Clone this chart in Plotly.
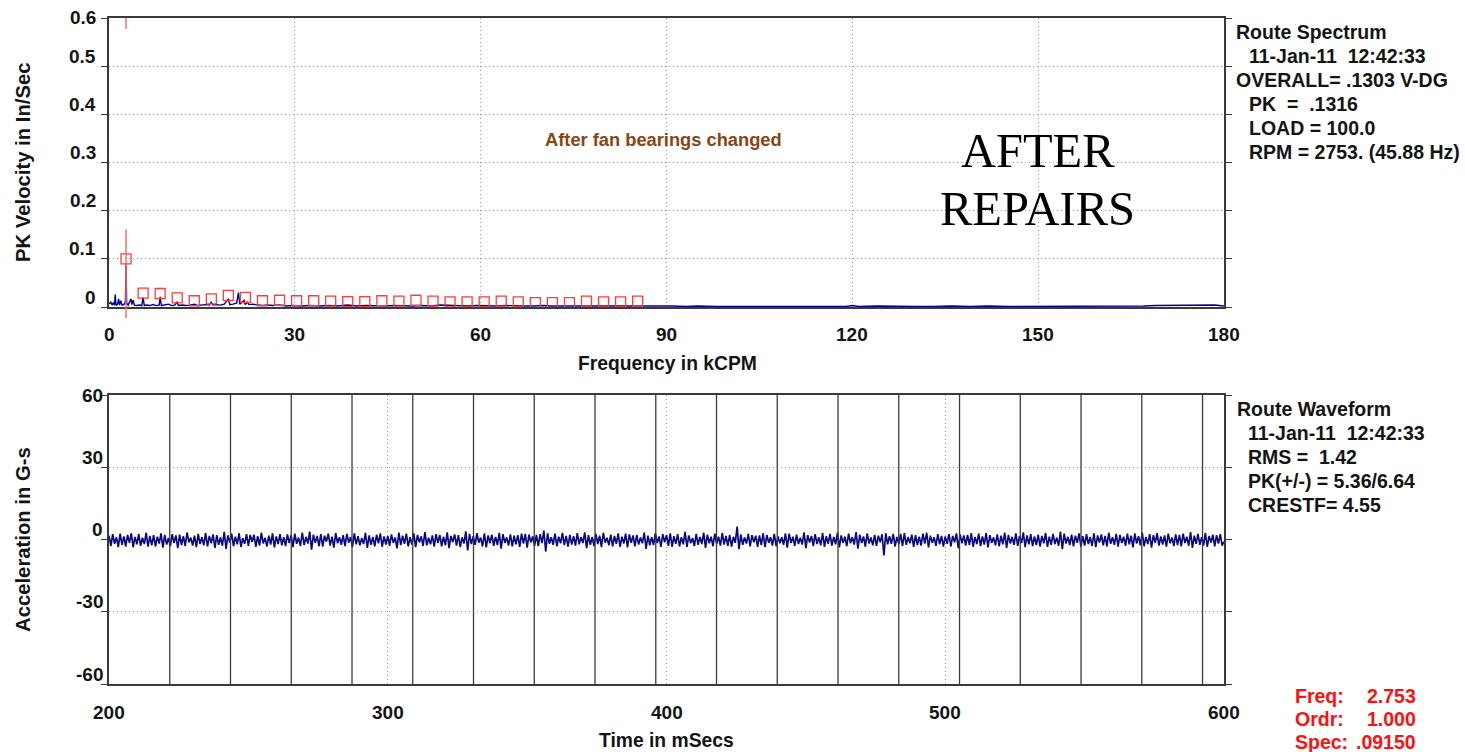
import numpy as np
import plotly.graph_objects as go

W, H = 1465, 752

# ---------------- data ----------------
run_speed_kcpm = 2.753          # 1x running speed (kCPM)
rpm = 2753.0

spec_freq = [0.0, 0.3, 0.5, 0.7, 0.9, 1.0, 1.15, 1.4, 1.55, 1.7, 1.9, 2.1, 2.4, 2.65, 2.75, 2.85,
             3.1, 3.3, 3.55, 3.7, 3.9, 4.1, 4.5, 4.9, 5.3, 5.5, 5.7, 6.1, 6.6, 7.1, 7.6, 8.1,
             8.26, 8.45, 9.0, 9.6, 10.1, 10.6, 11.0, 11.2, 11.8, 12.4, 13.0, 13.8, 14.3, 15.0,
             15.6, 16.2, 16.5, 16.8, 17.4, 18.0, 18.6, 19.27, 19.5, 20.0, 20.6, 20.9, 21.1, 21.5,
             21.8, 22.0, 22.3, 22.6, 23.2, 24.0, 24.8, 25.6, 26.4, 27.5, 28.6, 29.7, 31.0, 32.5,
             34.0, 35.5, 37.0, 38.5, 40.0, 41.5, 43.0, 44.5, 46.0, 47.5, 49.0, 50.5, 52.0, 53.5,
             55.0, 56.5, 58.0, 59.5, 61.0, 62.5, 64.0, 65.5, 67.0, 68.5, 70.0, 71.5, 73.0, 74.5,
             76.0, 77.5, 79.0, 80.5, 82.0, 83.5, 85.0, 86.5, 88.0, 89.5, 91.0, 93.0, 95.0, 98.0,
             101.0, 104.0, 107.0, 110.0, 113.0, 116.0, 119.0, 120.0, 121.0, 124.0, 127.0, 130.0,
             133.0, 136.0, 139.0, 142.0, 145.0, 148.0, 150.0, 152.0, 155.0, 158.0, 161.0, 164.0,
             167.0, 169.0, 171.0, 172.5, 174.0, 175.5, 177.0, 178.5, 180.0]
spec_amp = [0.006, 0.010, 0.004, 0.009, 0.004, 0.026, 0.003, 0.006, 0.017, 0.004, 0.013, 0.004, 0.005, 0.010, 0.0915, 0.008,
            0.004, 0.009, 0.017, 0.005, 0.014, 0.004, 0.003, 0.004, 0.003, 0.020, 0.003, 0.004, 0.003, 0.005, 0.003, 0.004,
            0.021, 0.003, 0.004, 0.006, 0.003, 0.004, 0.010, 0.003, 0.004, 0.003, 0.004, 0.006, 0.003, 0.004,
            0.005, 0.004, 0.010, 0.004, 0.005, 0.004, 0.006, 0.017, 0.005, 0.006, 0.008, 0.030, 0.006, 0.010,
            0.014, 0.005, 0.010, 0.005, 0.006, 0.004, 0.003, 0.004, 0.003, 0.004, 0.002, 0.003, 0.002, 0.003,
            0.002, 0.003, 0.002, 0.004, 0.002, 0.003, 0.002, 0.002, 0.003, 0.002, 0.002, 0.003, 0.002, 0.004,
            0.003, 0.002, 0.002, 0.003, 0.002, 0.002, 0.003, 0.002, 0.002, 0.002, 0.003, 0.002, 0.002, 0.002,
            0.002, 0.002, 0.002, 0.002, 0.002, 0.002, 0.002, 0.002, 0.003, 0.002, 0.002, 0.001, 0.002, 0.001,
            0.001, 0.002, 0.001, 0.001, 0.001, 0.001, 0.001, 0.003, 0.001, 0.002, 0.001, 0.001,
            0.001, 0.002, 0.001, 0.002, 0.001, 0.001, 0.001, 0.001, 0.002, 0.002, 0.002, 0.002,
            0.002, 0.003, 0.003, 0.004, 0.003, 0.004, 0.003, 0.004, 0.002]

harm_order = list(range(1, 32))
harm_amp = [0.100, 0.029, 0.028, 0.019, 0.013, 0.017, 0.024, 0.020, 0.013, 0.014, 0.013, 0.013, 0.012, 0.011,
            0.011, 0.013, 0.012, 0.014, 0.012, 0.0105, 0.0105, 0.0105, 0.012, 0.0105, 0.009, 0.009, 0.009,
            0.012, 0.0105, 0.0105, 0.012]

cursor_low = [-0.023, 0.161]     # cursor segment around the 1x peak (In/Sec)
cursor_high = [0.577, 0.6]       # cursor mark at the top

wave_start_ms = 200.0
wave_len_ms = 400.0
wave_g = [
    1.6, -2.7, 2.2, -1.8, 0.9, -3.1, 2.4, -2.2, 1.3, -2.9, 1.9, -1.4, 2.6, -3.3, 1.1, -2.0, 2.3, -2.6, 0.7, -1.9, 2.8, -3.0, 1.5, -2.4, 1.8,
    -2.9, 1.2, -1.7, 2.5, -3.4, 1.9, -2.1, 0.6, -2.8, 2.2, -1.5, 1.7, -3.6, 2.0, -2.3, 1.4, -2.7, 2.9, -1.2, 0.8, -2.5, 1.6, -3.2, 2.3, -1.9,
    1.0, -2.4, 2.7, -2.9, 1.5, -1.6, 2.1, -3.5, 1.8, -2.2, 0.9, -2.6, 3.2, -3.9, 1.7, -1.3, 2.4, -2.8, 1.2, -2.0, 2.6, -3.1, 0.5, -1.8, 2.2,
    -2.6, 1.9, -1.1, 2.0, -3.0, 1.4, -2.5, 2.8, -1.7, 0.7, -2.9, 1.6, -2.1, 2.5, -3.3, 1.3, -1.9, 2.2, -2.4, 1.0, -2.7, 2.1, -1.5, 1.8, -3.2,
    2.4, -1.8, 0.8, -2.6, 2.9, -2.3, 1.1, -1.7, 3.3, -4.2, 2.0, -1.4, 1.5, -2.8, 2.2, -3.0, 1.6, -0.9, 2.4, -2.5, 1.2, -3.4, 2.7, -1.6, 0.9,
    -2.2, 1.8, -2.7, 2.3, -1.3, 1.0, -3.1, 2.6, -2.0, 1.4, -2.4, 0.6, -1.9, 2.8, -3.5, 1.7, -2.2, 1.1, -2.8, 2.0, -1.6, 2.5, -3.0, 1.3, -2.1,
    1.5, -2.6, 2.1, -1.4, 0.8, -3.7, 2.9, -2.3, 1.6, -1.8, 2.4, -2.9, 1.0, -2.1, 2.6, -3.2, 1.9, -1.2, 1.3, -2.7, 3.1, -2.4, 0.7, -2.0, 1.7,
    -3.0, 2.2, -1.5, 1.9, -2.8, 1.2, -2.4, 3.0, -3.6, 1.5, -1.1, 2.1, -2.5, 1.8, -3.1, 0.9, -1.7, 3.4, -4.5, 2.3, -1.9, 1.4, -2.2, 2.6, -1.3,
    0.8, -2.9, 2.5, -3.3, 1.7, -1.6, 2.0, -2.6, 1.1, -2.3, 2.8, -3.8, 2.2, -1.4, 0.9, -2.5, 2.1, -2.9, 1.6, -2.0, 1.8, -3.1, 2.4, -1.7, 2.3,
    -3.4, 2.0, -1.2, 1.3, -2.6, 1.9, -2.7, 2.2, -1.5, 3.7, -5.0, 2.6, -1.8, 0.9, -2.2, 2.4, -2.8, 1.2, -1.6, 2.7, -2.3, 1.5, -3.0, 1.9, -2.1,
    1.4, -2.5, 2.6, -2.0, 1.0, -1.5, 3.0, -3.6, 1.8, -2.2, 1.1, -2.7, 2.3, -1.9, 1.6, -3.2, 2.8, -1.3, 0.7, -2.4, 2.0, -2.9, 1.5, -1.8, 2.5,
    -3.0, 1.2, -1.7, 2.4, -3.3, 2.1, -1.4, 1.7, -2.8, 1.9, -2.1, 0.8, -1.6, 2.9, -3.9, 1.6, -2.4, 1.0, -2.3, 2.6, -1.5, 1.3, -3.1, 2.2, -1.2,
    1.9, -2.6, 2.5, -3.0, 1.4, -1.8, 2.2, -2.9, 1.0, -2.0, 3.2, -3.1, 1.7, -1.5, 0.6, -2.7, 2.3, -2.2, 1.1, -1.9, 2.8, -3.5, 2.0, -1.6, 1.2,
    -2.8, 2.4, -1.8, 1.2, -2.5, 2.7, -2.1, 1.5, -2.6, 1.9, -3.0, 1.1, -1.4, 5.36, -4.0, 2.1, -2.2, 0.8, -1.7, 2.3, -2.9, 1.8, -1.2, 1.6, -3.1,
    1.7, -2.3, 2.6, -3.2, 1.9, -1.4, 1.0, -2.5, 2.3, -2.8, 1.3, -1.6, 0.9, -2.2, 2.5, -3.4, 2.4, -1.5, 1.2, -2.6, 2.0, -1.9, 0.7, -2.1, 3.0,
    -3.6, 1.8, -1.3, 1.5, -2.7, 2.2, -1.9, 0.9, -2.4, 2.7, -3.0, 1.4, -1.8, 2.3, -2.5, 1.1, -2.0, 2.9, -3.3, 1.7, -1.4, 1.2, -2.8, 2.4, -1.6,
    1.0, -2.1, 3.1, -3.8, 2.0, -1.5, 1.3, -3.0, 2.5, -1.7, 0.8, -2.4, 1.9, -2.6, 1.6, -1.2, 2.2, -6.64, 2.6, -2.0, 1.4, -1.8, 2.3, -2.9, 1.1,
    -1.9, 2.3, -2.7, 2.6, -2.2, 1.0, -1.6, 2.0, -3.1, 1.8, -2.3, 1.2, -2.5, 2.4, -1.7, 2.8, -3.3, 1.6, -1.4, 0.9, -2.6, 2.2, -2.0, 1.5, -2.9,
    1.3, -1.8, 2.2, -2.9, 1.5, -1.2, 2.5, -3.6, 2.1, -1.6, 1.7, -2.5, 1.9, -2.3, 2.6, -3.0, 1.0, -1.9, 2.4, -2.7, 1.3, -2.1, 2.7, -3.3, 1.8,
    -1.4, 0.9, -2.4, 2.1, -2.8, 1.6, -2.0, 2.9, -3.5, 1.9, -1.7, 1.1, -2.2, 2.5, -2.6, 1.4, -1.5, 3.0, -3.2, 1.7, -2.0, 2.2, -2.7, 1.3, -2.3,
    2.0, -2.9, 1.5, -1.6, 2.7, -3.1, 1.2, -2.2, 2.3, -1.9, 0.8, -2.6, 3.3, -4.0, 2.4, -1.7, 1.1, -2.3, 2.0, -2.8, 1.6, -1.4, 2.5, -3.0, 1.4,
    -2.5, 2.2, -1.9, 1.0, -2.7, 2.6, -3.2, 1.7, -1.3, 2.1, -2.4, 1.5, -2.9, 2.8, -1.8, 0.9, -2.2, 2.3, -3.0, 1.9, -1.5, 1.2, -2.6, 2.4, -2.0,
    1.6, -3.3, 2.5, -1.7, 1.4, -2.4, 2.9, -2.8, 1.1, -1.9, 2.2, -3.4, 1.8, -1.4, 2.6, -2.5, 1.3, -2.1, 1.7, -3.0, 2.4, -1.6, 0.8, -2.7, 2.1,
    -2.3, 1.9, -2.9, 2.4, -1.5, 1.2, -2.6, 3.1, -3.5, 1.6, -1.8, 2.3, -2.2, 1.0, -2.4, 2.7, -3.1, 1.5, -1.3, 2.0, -2.8, 1.8, -1.7, 2.2, -2.5,
    -0.9,
]
wave_cursor_k = list(range(1, 19))   # revolution markers

spec_xticks = [0, 30, 60, 90, 120, 150, 180]
spec_yticks = [0, 0.1, 0.2, 0.3, 0.4, 0.5, 0.6]
spec_ylabels = ["0", "0.1", "0.2", "0.3", "0.4", "0.5", "0.6"]
wave_xticks = [200, 300, 400, 500, 600]
wave_yticks = [-60, -30, 0, 30, 60]

spec_info = [("Route Spectrum", 0), ("11-Jan-11\u00a0\u00a012:42:33", 1), ("OVERALL= .1303 V-DG", 0),
             ("PK\u00a0\u00a0=\u00a0\u00a0.1316", 1), ("LOAD = 100.0", 1), ("RPM = 2753. (45.88 Hz)", 1)]
wave_info = [("Route Waveform", 0), ("11-Jan-11\u00a0\u00a012:42:33", 1), ("RMS =\u00a0\u00a01.42", 1),
             ("PK(+/-) = 5.36/6.64", 1), ("CRESTF= 4.55", 1)]
cursor_info = [("Freq:", "2.753"), ("Ordr:", "1.000"), ("Spec:", ".09150")]

# ---------------- layout helpers ----------------
def px(x):
    return x / W

def py(y):
    return 1 - y / H

XD = [px(109), px(1224)]
Y1D = [py(307), py(18)]
Y2D = [py(684), py(395)]

FONT = "Liberation Sans, Arial, sans-serif"
FS = 19
TXT = "#141414"
AX = "#3a3a3a"
GRID = "#9c9c9c"

fig = go.Figure()

# spectrum
fig.add_trace(go.Scatter(x=spec_freq, y=spec_amp, mode="lines",
                         line=dict(color="#000090", width=1.4), xaxis="x", yaxis="y",
                         showlegend=False, hoverinfo="skip"))
harm_freq = [o * run_speed_kcpm for o in harm_order]
fig.add_trace(go.Scatter(x=harm_freq, y=harm_amp, mode="markers",
                         marker=dict(symbol="square-open", size=10, color="#ff3c3c",
                                     line=dict(width=1.3, color="#ff3c3c")),
                         xaxis="x", yaxis="y", showlegend=False, hoverinfo="skip"))

# waveform
n = len(wave_g)
wave_t = wave_start_ms + np.arange(n) * (wave_len_ms / (n - 1))
fig.add_trace(go.Scatter(x=wave_t, y=wave_g, mode="lines",
                         line=dict(color="#0a0a80", width=1.7), xaxis="x2", yaxis="y2",
                         showlegend=False, hoverinfo="skip"))

shapes = []
# spectrum cursor
shapes.append(dict(type="line", xref="x", yref="y", x0=run_speed_kcpm, x1=run_speed_kcpm,
                   y0=0, y1=cursor_low[1], line=dict(color="#ff6a6a", width=1.5), layer="above"))
shapes.append(dict(type="line", xref="x", yref="y domain", x0=run_speed_kcpm, x1=run_speed_kcpm,
                   y0=cursor_low[0] / (spec_yticks[-1] - spec_yticks[0]), y1=0,
                   line=dict(color="#ff6a6a", width=1.5), layer="above"))
shapes.append(dict(type="line", xref="x", yref="y", x0=run_speed_kcpm, x1=run_speed_kcpm,
                   y0=cursor_high[0], y1=cursor_high[1], line=dict(color="#ff6a6a", width=1.5), layer="above"))
# waveform revolution markers
period_ms = 60000.0 / rpm
for k in wave_cursor_k:
    t = wave_start_ms + k * period_ms
    shapes.append(dict(type="line", xref="x2", yref="y2 domain", x0=t, x1=t, y0=0, y1=1,
                       line=dict(color="#3c3c3c", width=1.3), layer="above"))

ann = []

def add_text(text, x, y, xref="paper", yref="paper", xanchor="center", yanchor="middle",
             size=FS, color=TXT, family=FONT, bold=True, xshift=0, yshift=0, angle=0):
    ann.append(dict(text=("<b>%s</b>" % text) if bold else text, x=x, y=y, xref=xref, yref=yref,
                    xanchor=xanchor, yanchor=yanchor, showarrow=False, xshift=xshift,
                    yshift=yshift, textangle=angle,
                    font=dict(family=family, size=size, color=color)))

# tick labels
for v in spec_xticks:
    add_text(str(v), v, 0, xref="x", yref="y domain", yshift=-27)
for v, lab in zip(spec_yticks, spec_ylabels):
    add_text(lab, 0, v, xref="x domain", yref="y", xanchor="right", xshift=-11,
             yshift=0 if v == spec_yticks[-1] else 10)
for v in wave_xticks:
    add_text(str(v), v, 0, xref="x2", yref="y2 domain", yshift=-28)
for v in wave_yticks:
    add_text(str(v), 0, v, xref="x2 domain", yref="y2", xanchor="right", xshift=-4,
             yshift=0 if v == wave_yticks[-1] else 10)

# axis titles
add_text("Frequency in kCPM", px(667), py(363), size=19.3)
add_text("Time in mSecs", px(666), py(740), size=19.3)
add_text("PK Velocity in In/Sec", px(23), py(162), angle=-90, size=20.3)
add_text("Acceleration in G-s", px(23), py(540), angle=-90, size=20.3)

# info blocks
for i, (t, ind) in enumerate(spec_info):
    add_text(t, px(1247 if ind else 1234), py(32 + i * 24), xanchor="left", size=19.5)
for i, (t, ind) in enumerate(wave_info):
    add_text(t, px(1246 if ind else 1235), py(409 + i * 24), xanchor="left", size=19.5)
for i, (lab, val) in enumerate(cursor_info):
    add_text(lab, px(1293), py(696 + i * 23), xanchor="left", color="#ff1010", size=19.5)
    add_text(val, px(1418), py(696 + i * 23), xanchor="right", color="#ff1010", size=19.5)

# notes
add_text("After fan bearings changed", px(663), py(139), size=18.3, color="#8a4510")
add_text("AFTER", px(1038), py(150), size=48.5, bold=False, family="Liberation Serif, Times New Roman, serif",
         color="#000000")
add_text("REPAIRS", px(1037), py(208), size=48.5, bold=False, family="Liberation Serif, Times New Roman, serif",
         color="#000000")

axis_common = dict(showticklabels=False, zeroline=False, showline=True, linecolor=AX, linewidth=1.5,
                   showgrid=True, gridcolor=GRID, griddash="1px,3px", gridwidth=1)

fig.update_layout(
    width=W, height=H, margin=dict(l=0, r=0, t=0, b=0),
    paper_bgcolor="white", plot_bgcolor="white",
    xaxis=dict(domain=XD, range=[0, 180], anchor="y", tickvals=spec_xticks, ticks="",
               mirror=True, layer="below traces", **axis_common),
    yaxis=dict(domain=Y1D, range=[0, 0.6], anchor="x", tickvals=spec_yticks, ticks="outside",
               ticklen=6, tickcolor=AX, tickwidth=1.2, mirror="ticks", **axis_common),
    xaxis2=dict(domain=XD, range=[200, 600], anchor="y2", tickvals=wave_xticks, ticks="",
                mirror=True, **axis_common),
    yaxis2=dict(domain=Y2D, range=[-60, 60], anchor="x2", tickvals=wave_yticks, ticks="outside",
                ticklen=6, tickcolor=AX, tickwidth=1.2, mirror="ticks", **axis_common),
    shapes=shapes, annotations=ann,
)

fig.write_html("out.html", config={"displayModeBar": False},
               post_script="document.body.style.margin='0px';document.body.style.overflow='hidden';")
